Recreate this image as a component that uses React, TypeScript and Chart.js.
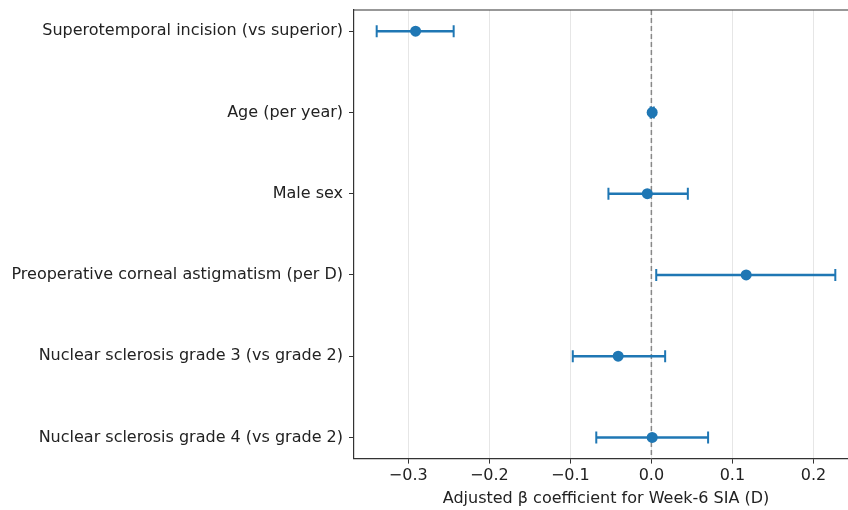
import React, { useEffect, useRef } from "react";
import { Chart, registerables } from "chart.js";

Chart.register(...registerables);

const labels = [
  "Superotemporal incision (vs superior)",
  "Age (per year)",
  "Male sex",
  "Preoperative corneal astigmatism (per D)",
  "Nuclear sclerosis grade 3 (vs grade 2)",
  "Nuclear sclerosis grade 4 (vs grade 2)",
];
const estimates = [-0.291, 0.001, -0.005, 0.117, -0.041, 0.001];
const lower = [-0.339, -0.001, -0.053, 0.006, -0.097, -0.068];
const upper = [-0.244, 0.003, 0.045, 0.227, 0.017, 0.070];
const xTicks = [-0.3, -0.2, -0.1, 0.0, 0.1, 0.2];
const xTitle = "Adjusted β coefficient for Week-6 SIA (D)";

const BLUE = "#1f77b4";
const FONT = "'DejaVu Sans', sans-serif";
const FS = 16;

const framePlugin = {
  id: "frame",
  beforeDatasetsDraw(chart: any) {
    const { ctx, chartArea, scales } = chart;
    const x0 = scales.x.getPixelForValue(0);
    ctx.save();
    ctx.strokeStyle = "#888888";
    ctx.lineWidth = 1.5;
    ctx.setLineDash([5, 3]);
    ctx.beginPath();
    ctx.moveTo(x0, chartArea.top);
    ctx.lineTo(x0, chartArea.bottom);
    ctx.stroke();
    ctx.restore();
  },
  afterDraw(chart: any) {
    const { ctx, chartArea } = chart;
    ctx.save();
    ctx.strokeStyle = "#333333";
    ctx.lineWidth = 1.2;
    ctx.beginPath();
    ctx.moveTo(chartArea.left, chartArea.top);
    ctx.lineTo(chartArea.right, chartArea.top);
    ctx.stroke();
    ctx.restore();
  },
};

export default function App() {
  const ref = useRef<HTMLCanvasElement>(null);
  useEffect(() => {
    if (!ref.current) return;
    const ciSets = labels.map((_, i) => ({
      type: "line" as const,
      data: [
        { x: lower[i], y: i },
        { x: upper[i], y: i },
      ],
      borderColor: BLUE,
      backgroundColor: BLUE,
      borderWidth: 2.5,
      showLine: true,
      pointStyle: "line" as const,
      rotation: 90,
      pointRadius: 6,
      pointBorderWidth: 2,
      pointBorderColor: BLUE,
      order: 2,
    }));
    const chart = new Chart(ref.current, {
      type: "scatter",
      data: {
        datasets: [
          ...ciSets,
          {
            type: "scatter" as const,
            data: estimates.map((v, i) => ({ x: v, y: i })),
            backgroundColor: BLUE,
            borderColor: BLUE,
            pointRadius: 5.5,
            pointBorderWidth: 0,
            order: 1,
          },
        ] as any,
      },
      options: {
        responsive: false,
        animation: false,
        layout: { padding: { left: 0, right: 0, top: 10, bottom: 2 } },
        plugins: {
          legend: { display: false },
          tooltip: { enabled: false },
        },
        scales: {
          x: {
            type: "linear",
            min: -0.367,
            max: 0.255,
            afterBuildTicks: (axis: any) => {
              axis.ticks = xTicks.map((v) => ({ value: v }));
            },
            afterFit: (axis: any) => {
              axis.paddingLeft = 0;
              axis.paddingRight = 0;
            },
            ticks: {
              color: "#222",
              font: { family: FONT, size: FS },
              padding: 3,
              maxRotation: 0,
              callback: (v: any) => {
                const n = Number(v);
                const s = Math.abs(n).toFixed(1);
                return n < -1e-9 ? "\u2212" + s : s;
              },
            },
            grid: {
              color: "#e6e6e6",
              lineWidth: 1,
              tickColor: "#333",
              tickLength: 5,
            },
            border: { display: true, color: "#333", width: 1.2 },
            title: {
              display: true,
              text: xTitle,
              color: "#222",
              font: { family: FONT, size: FS },
              padding: { top: 0, bottom: 0 },
            },
          },
          y: {
            type: "linear",
            reverse: true,
            min: -0.26,
            max: 5.26,
            afterBuildTicks: (axis: any) => {
              axis.ticks = labels.map((_, i) => ({ value: i }));
            },
            afterFit: (axis: any) => {
              axis.width = 354;
              axis.paddingTop = 0;
              axis.paddingBottom = 0;
            },
            ticks: {
              color: "#222",
              font: { family: FONT, size: FS },
              padding: 6,
              autoSkip: false,
              callback: (v: any) => labels[Math.round(Number(v))] ?? "",
            },
            grid: {
              drawOnChartArea: false,
              tickColor: "#333",
              tickLength: 5,
            },
            border: { display: true, color: "#333", width: 1.2 },
          },
        },
      },
      plugins: [framePlugin],
    });
    return () => chart.destroy();
  }, []);
  return (
    <div
      style={{
        position: "fixed",
        left: 0,
        top: 0,
        width: 848,
        height: 510,
        overflow: "hidden",
        background: "#fff",
      }}
    >
      <canvas ref={ref} width={866} height={510} />
    </div>
  );
}
